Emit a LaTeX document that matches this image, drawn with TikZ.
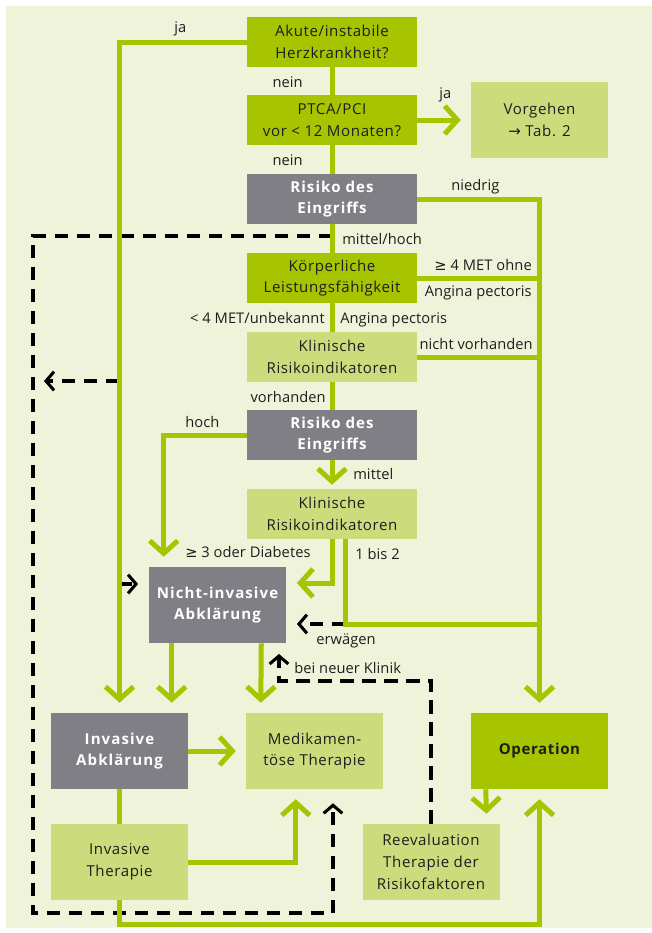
\documentclass[tikz,border=0pt]{standalone}
\usepackage{fontspec}
\setmainfont{Open Sans}[LetterSpace=4]
\newfontfamily\symfont{DejaVu Sans}
\usetikzlibrary{arrows.meta,calc}

\definecolor{panel}{HTML}{EEF3DA}
\definecolor{dgreen}{HTML}{A7C400}
\definecolor{lgreen}{HTML}{CCDC7C}
\definecolor{boxgrey}{HTML}{807F85}
\definecolor{ink}{HTML}{1E1E1E}

\newcommand{\GEsym}{{\symfont ≥}}
\newcommand{\ARsym}{{\symfont →}}

\begin{document}
\begin{tikzpicture}[x=0.75pt,y=-0.75pt,
  txt/.style={font=\fontsize{11.3}{16.3}\selectfont, text=ink},
  box/.style={txt, rectangle, inner sep=0pt, align=center},
  wide/.style={box, minimum width=127.5pt, minimum height=37.5pt},
  block/.style={box, minimum width=102.75pt, minimum height=57pt},
  dark/.style={fill=dgreen},
  light/.style={fill=lgreen},
  grey/.style={fill=boxgrey, text=white, font=\fontsize{11.3}{16.3}\selectfont\bfseries\addfontfeature{LetterSpace=7}},
  lab/.style={text=ink, font=\fontsize{11}{16}\selectfont\addfontfeature{LetterSpace=0.5}, inner sep=0pt, text height=8.5pt, text depth=2.2pt},
  flow/.style={draw=dgreen, line width=3.75pt},
  flowtip/.style={flow, -{Straight Barb[length=9.5pt, width=21pt]}, shorten >=7.5pt},
  feedback/.style={draw=black, line width=2.3pt, dash pattern=on 10pt off 6.5pt},
  feedbacktip/.style={feedback, -{Straight Barb[length=6pt, width=14pt]}, shorten >=8pt},
]
% page and panel
\useasboundingbox (0,0) rectangle (652,933);
\fill[white] (0,0) rectangle (652,933);
\fill[panel] (6,6) rectangle (652,928);

% boxes
\node[wide, dark]  (akute)    at (332,42)  {Akute/instabile\\Herzkrankheit?};
\node[wide, dark]  (ptca)     at (332,120) {PTCA/PCI\\vor < 12 Monaten?};
\node[block, light](vorgehen) at (539.5,120) {Vorgehen\\\ARsym{} Tab. 2};
\node[wide, grey]  (risikoA)  at (332,199) {Risiko des\\Eingriffs};
\node[wide, dark]  (koerper)  at (332,278) {Körperliche\\Leistungsfähigkeit};
\node[wide, light] (klinA)    at (332,357) {Klinische\\Risikoindikatoren};
\node[wide, grey]  (risikoB)  at (332,435) {Risiko des\\Eingriffs};
\node[wide, light] (klinB)    at (332,514) {Klinische\\Risikoindikatoren};
\node[block, grey] (nichtinv) at (217.5,605) {Nicht-invasive\\Abklärung};
\node[block, grey] (invabk)   at (119.5,751) {Invasive\\Abklärung};
\node[block, light](medi)     at (314.5,751) {Medikamen-\\töse Therapie};
\node[block, dark, font=\fontsize{11.3}{16.3}\selectfont\bfseries] (oper) at (539.5,751) {Operation};
\node[block, light](invther)  at (119.5,862) {Invasive\\Therapie};
\node[block, light](reeval)   at (431,862) {Reevaluation\\Therapie der\\Risikofaktoren};

% corner points of the dashed feedback paths
\coordinate (dStart) at (332,236);
\coordinate (dTopL)  at (33,236);
\coordinate (dBotL)  at (33,913);
\coordinate (dBotR)  at (333,913);
\coordinate (dMidL)  at (33,381);
\coordinate (jaMid)  at (119,381);
\coordinate (jaLow)  at (119,584);
\coordinate (erw)    at (345,624);
\coordinate (klinik) at (279,681);

% dashed feedback paths
\draw[feedback] (dStart) -- (dTopL) -- (dBotL) -- (dBotR);
\draw[feedbacktip, shorten >=10.5pt] (dBotR) -- (dBotR |- medi.south);
\draw[feedbacktip, shorten >=0pt] (jaMid) -- ($(dMidL)+(11,0)$);
\draw[feedbacktip] (jaLow) -- (jaLow -| nichtinv.west);
\draw[feedbacktip] (erw) -- (erw -| nichtinv.east);
\draw[feedbacktip] (reeval.north) |- (klinik) -- (klinik |- nichtinv.south);

% main flow
\draw[flowtip] (akute.west) -| (invabk.north);
\draw[flow] (akute.south) -- (ptca.north);
\draw[flowtip] (ptca.east) -- (vorgehen.west);
\draw[flow] (ptca.south) -- (risikoA.north);
\draw[flowtip] (risikoA.east) -| (oper.north);
\draw[flow] (risikoA.south) -- (koerper.north);
\draw[flow] (koerper.east) -- (koerper.east -| oper.north);
\draw[flow] (koerper.south) -- (klinA.north);
\draw[flow] (klinA.east) -- (klinA.east -| oper.north);
\draw[flow] (klinA.south) -- (risikoB.north);
\draw[flowtip] (risikoB.west) -| ($(nichtinv.north west)+(15,0)$);
\draw[flowtip, shorten >=3pt] (risikoB.south) -- (klinB.north);
\draw[flowtip, shorten >=8pt] (klinB.south) |- ($(nichtinv.east)+(0,-22)$);
\draw[flow] ($(klinB.south)+(13,0)$) |- (erw -| oper.north);
\draw[flowtip] ($(nichtinv.south west)+(23,0)$) -- ($(invabk.north west)+(121,0)$);
\draw[flowtip] ($(nichtinv.south east)+(-25,0)$) -- ($(medi.north west)+(15,0)$);
\draw[flowtip] (invabk.east) -- (medi.west);
\draw[flow] (invabk.south) -- (invther.north);
\draw[flowtip] (invther.east) -| ($(medi.south west)+(50,0)$);
\draw[flowtip] ($(oper.south west)+(15,0)$) -- ($(reeval.north east)+(-13,0)$);
\draw[flowtip] (invther.south) -- ++(0,24) -| (oper.south);

% branch labels
\node[lab, anchor=west] at (174,28)  {ja};
\node[lab, anchor=east] at (303,83)  {nein};
\node[lab, anchor=east] at (303,161) {nein};
\node[lab, anchor=west] at (439,94)  {ja};
\node[lab, anchor=west] at (451,186) {niedrig};
\node[lab, anchor=west] at (342,240) {mittel/hoch};
\node[lab, anchor=east] at (532,266) {\GEsym{} 4 MET ohne};
\node[lab, anchor=east] at (532,292) {Angina pectoris};
\node[lab, anchor=east] at (325,319) {< 4 MET/unbekannt};
\node[lab, anchor=west] at (340,319) {Angina pectoris};
\node[lab, anchor=east] at (533,345) {nicht vorhanden};
\node[lab, anchor=east] at (326,398) {vorhanden};
\node[lab, anchor=west] at (185,423) {hoch};
\node[lab, anchor=west] at (353,475) {mittel};
\node[lab, anchor=west] at (185,553) {\GEsym{} 3 oder Diabetes};
\node[lab, anchor=west] at (355,555) {1 bis 2};
\node[lab, anchor=west] at (316,640) {erwägen};
\node[lab, anchor=west] at (294,669) {bei neuer Klinik};
\end{tikzpicture}
\end{document}
